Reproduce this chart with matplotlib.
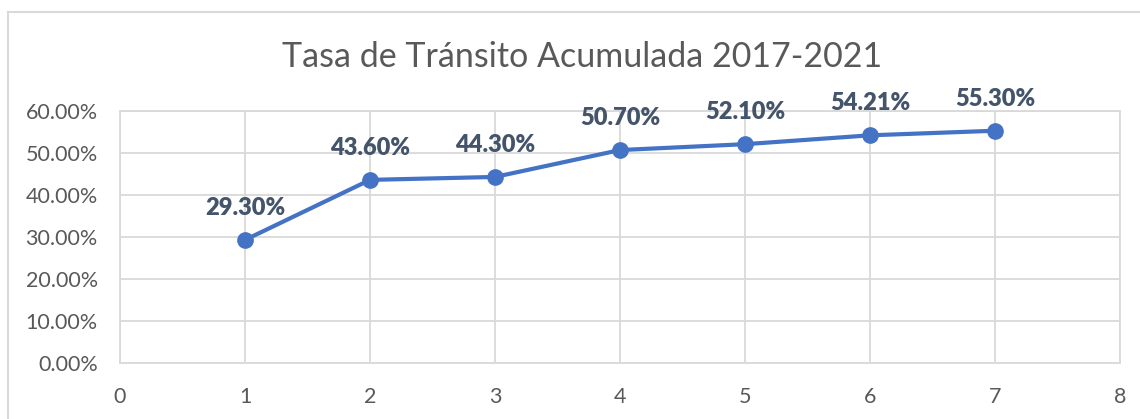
import matplotlib.pyplot as plt
from matplotlib.ticker import FuncFormatter, MultipleLocator
from matplotlib.lines import Line2D

# data
periods = [1, 2, 3, 4, 5, 6, 7]
rates = [29.30, 43.60, 44.30, 50.70, 52.10, 54.21, 55.30]
labels = ['29.30%', '43.60%', '44.30%', '50.70%', '52.10%', '54.21%', '55.30%']
title = 'Tasa de Tránsito Acumulada 2017-2021'

# styles
_font = ['Lato', 'DejaVu Sans']
_linec = '#4472C4'
_gridc = '#D9D9D9'
_textc = '#595959'
_labc = '#44546A'

plt.rcParams['font.family'] = _font

fig = plt.figure(figsize=(11.4, 4.19), dpi=100)
ax = fig.add_axes([120/1140, 56/419, 1000/1140, 252/419])

ax.plot(periods, rates, '-o', color=_linec, lw=3, ms=11, zorder=3)
for x, y, s in zip(periods, rates, labels):
    ax.annotate(s, (x, y), xytext=(0, 15), textcoords='offset points',
                ha='center', va='bottom', fontsize=17, fontweight='heavy',
                color=_labc)

ax.set_xlim(0, 8)
ax.set_ylim(0, 60)
ax.xaxis.set_major_locator(MultipleLocator(1))
ax.yaxis.set_major_locator(MultipleLocator(10))
ax.yaxis.set_major_formatter(FuncFormatter(lambda v, p: f'{v:.2f}%'))
ax.grid(True, color=_gridc, lw=1.3)
ax.set_axisbelow(True)
for sp in ax.spines.values():
    sp.set_color(_gridc)
    sp.set_linewidth(1.3)
ax.tick_params(length=0, colors=_textc, labelsize=15.5)
ax.tick_params(axis='y', pad=16)
ax.tick_params(axis='x', pad=17)

fig.text(582/1140, 1 - 57/419, title, ha='center', va='center',
         fontsize=24.5, color=_textc)

# chart border
fig.add_artist(Line2D([8/1140, 8/1140], [0, 1 - 12/419], color=_gridc, lw=1.5))
fig.add_artist(Line2D([8/1140, 1], [1 - 12/419, 1 - 12/419], color=_gridc, lw=1.5))

fig.savefig('out.png', dpi=100)
